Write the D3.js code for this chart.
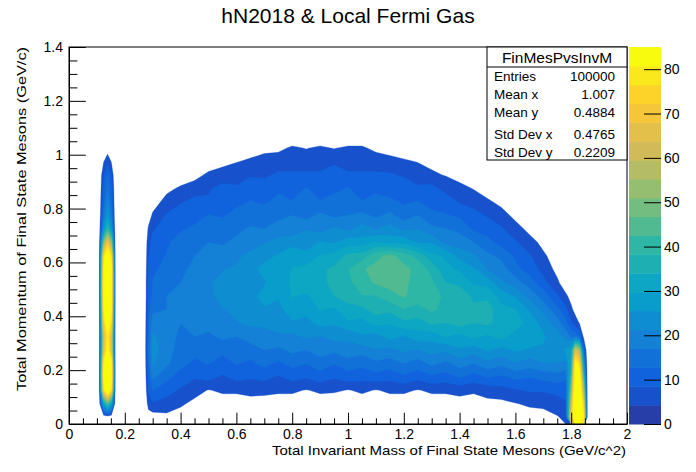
<!DOCTYPE html>
<html><head><meta charset="utf-8">
<script src="https://cdn.jsdelivr.net/npm/d3@7"></script>
<style>
html,body{margin:0;padding:0;background:#fff;}
svg{display:block;font-family:"Liberation Sans",Arial,Helvetica,sans-serif;}
</style></head><body>
<svg id="chart" width="696" height="472"></svg>
<script>
// ---------------- data ----------------
const chartTitle = "hN2018 & Local Fermi Gas";
const xTitle = "Total Invariant Mass of Final State Mesons (GeV/c^2)";
const yTitle = "Total Momentum of Final State Mesons (GeV/c)";
const xTickValues = [0, 0.2, 0.4, 0.6, 0.8, 1, 1.2, 1.4, 1.6, 1.8, 2];
const xTickLabels = ["0", "0.2", "0.4", "0.6", "0.8", "1", "1.2", "1.4", "1.6", "1.8", "2"];
const yTickValues = [0, 0.2, 0.4, 0.6, 0.8, 1, 1.2, 1.4];
const yTickLabels = ["0", "0.2", "0.4", "0.6", "0.8", "1", "1.2", "1.4"];
const zTickValues = [0, 10, 20, 30, 40, 50, 60, 70, 80];
const statsName = "FinMesPvsInvM";
const statsLabels = ["Entries", "Mean x", "Mean y", "Std Dev x", "Std Dev y"];
const statsValues = ["100000", "1.007", "0.4884", "0.4765", "0.2209"];
const zMax = 85;
const nLevels = 20;

// bin centres (GeV/c^2) of the sampled grid columns
const xCenters = [0.108, 0.124, 0.138, 0.152, 0.166,
  0.27, 0.285, 0.30, 0.35, 0.40, 0.45, 0.50, 0.55, 0.60, 0.65,
  0.70, 0.75, 0.80, 0.85, 0.90, 0.95, 1.00, 1.05, 1.10, 1.15,
  1.20, 1.25, 1.30, 1.35, 1.40, 1.45, 1.50, 1.55, 1.60, 1.65,
  1.70, 1.75, 1.78, 1.80, 1.815, 1.83, 1.845, 1.858];
// bin centres (GeV/c) of the grid rows, bottom to top
const yCenters = [0.025, 0.075, 0.125, 0.175, 0.225, 0.275, 0.325, 0.375, 0.425, 0.475, 0.525,
  0.575, 0.625, 0.675, 0.725, 0.775, 0.825, 0.875, 0.925, 0.975, 1.025, 1.075];

// counts, one row per yCenter, listed from top (1.075) to bottom (0.025)
const countsTopDown = [
  [0,0,0,0,0, 0,0,0,0,0,0,0,0,0,0, 0,0,0,0,0,0,0,0,0,0, 0,0,0,0,0,0,0,0,0,0, 0,0,0,0,0,0,0,0],
  [0,0,2,0,0, 0,0,0,0,0,0,0,1,2,2, 3,3,5,4,5,4,5,5,3,2, 1,0,0,0,0,0,0,0,0,0, 0,0,0,0,0,0,0,0],
  [0,4,7,4,0, 0,0,0,0,0,1,2,3,4,5, 6,7,7,7,7,8,7,7,7,6, 5,4,3,2,1,0,0,0,0,0, 0,0,0,0,0,0,0,0],
  [0,8,13,8,0, 0,0,0,0,1,3,5,6,7,8, 8,9,9,9,9,10,9,9,9,9, 8,7,5,4,2,1,0,0,0,0, 0,0,0,0,0,0,0,0],
  [0,10,16,11,0, 0,0,2,3,5,6,8,10,9,11, 10,12,11,13,11,12,13,11,12,10, 11,9,10,7,6,4,2,1,0,0, 0,0,0,0,0,0,0,0],
  [0,12,20,13,0, 0,0,2,6,8,10,9,12,11,13, 12,14,13,15,13,14,16,13,14,14, 12,13,11,11,8,7,5,3,1,0, 0,0,0,0,0,0,0,0],
  [0,16,26,17,0, 0,2,5,9,11,10,13,12,15,13, 16,15,17,15,18,16,17,18,16,18, 15,17,14,13,12,10,8,6,3,1, 0,0,0,0,0,0,0,0],
  [0,25,40,27,0, 0,5,8,11,12,14,13,16,15,18, 17,20,18,21,19,22,20,23,21,23, 20,21,18,17,16,12,11,9,6,3, 1,0,0,0,0,0,0,0],
  [0,50,70,52,0, 0,7,10,12,15,14,17,16,19,18, 21,22,24,23,26,25,28,27,30,28, 29,25,25,20,19,17,14,11,9,6, 3,0,0,0,0,0,0,0],
  [0,75,92,76,0, 0,8,11,13,15,17,18,20,20,23, 24,26,28,27,30,31,35,36,41,44, 40,37,31,29,24,22,18,16,12,9, 5,2,0,0,0,0,0,0],
  [0,82,98,84,0, 0,9,12,14,16,18,19,21,22,24, 27,26,30,31,33,35,38,42,44,46, 44,41,37,31,29,26,21,19,14,11, 7,3,1,0,0,0,0,0],
  [0,85,100,86,0, 0,10,13,15,17,19,21,22,23,25, 25,29,30,33,32,36,37,41,43,44, 44,40,39,34,33,29,28,22,19,15, 10,5,2,0,0,0,0,0],
  [0,84,98,85,0, 0,10,14,17,18,20,20,23,22,24, 27,26,30,29,32,34,35,38,38,41, 43,40,41,37,37,33,33,28,25,20, 15,9,5,3,1,0,0,0],
  [0,80,95,82,0, 0,11,16,17,18,19,20,21,22,23, 25,24,28,27,30,29,33,33,36,35, 38,37,39,37,38,35,36,31,30,25, 20,14,10,5,3,1,0,0],
  [0,72,90,75,0, 0,12,19,18,17,18,19,20,21,22, 23,22,25,24,27,26,29,28,31,30, 33,32,35,34,36,34,35,32,32,28, 24,19,14,9,6,4,1,0],
  [0,62,80,65,0, 0,13,22,19,16,17,16,18,17,19, 18,21,20,22,21,23,22,25,24,27, 25,28,27,30,28,31,29,31,28,29, 26,23,20,16,16,12,3,0],
  [0,65,85,66,0, 0,14,23,19,15,14,15,14,16,15, 17,16,18,17,19,18,20,19,21,20, 22,21,23,22,25,23,26,24,26,25, 25,24,26,30,65,55,12,0],
  [0,80,98,82,0, 0,13,22,18,14,12,13,11,13,12, 14,12,14,13,15,13,15,14,16,15, 17,15,18,16,19,17,20,18,21,19, 21,21,20,32,85,75,25,0],
  [0,84,100,85,0, 0,11,18,14,11,9,10,8,10,9, 10,8,10,9,11,9,11,10,11,10, 12,10,12,11,13,11,13,12,14,13, 14,15,14,40,92,88,40,0],
  [0,75,95,76,0, 0,9,13,10,8,6,4,5,5,6, 5,5,5,4,5,5,4,5,4,5, 5,4,5,5,6,5,6,7,8,9, 9,10,10,50,96,95,55,0],
  [0,30,45,30,0, 0,6,8,7,5,3,2,2,2,2, 3,2,2,2,2,1,2,2,1,2, 2,1,2,2,2,2,3,3,4,5, 5,6,8,60,100,100,70,0],
  [0,0,0,0,0, 0,2,2,3,2,0,0,0,0,0, 0,0,0,0,0,0,0,0,0,0, 0,0,0,0,0,0,0,0,1,2, 3,4,5,70,100,100,80,0]
];

// ---------------- ROOT "Bird" palette ----------------
const birdStops = [0, 0.125, 0.25, 0.375, 0.5, 0.625, 0.75, 0.875, 1];
const birdR = [0.2082, 0.0592, 0.0780, 0.0232, 0.1802, 0.5301, 0.8186, 0.9956, 0.9764];
const birdG = [0.1664, 0.3599, 0.5041, 0.6419, 0.7178, 0.7492, 0.7328, 0.7862, 0.9832];
const birdB = [0.5293, 0.8684, 0.8385, 0.7914, 0.6425, 0.4662, 0.3499, 0.1968, 0.0539];
function bird(f) {
  let k = 0;
  while (k < birdStops.length - 2 && f > birdStops[k + 1]) k++;
  const t = (f - birdStops[k]) / (birdStops[k + 1] - birdStops[k]);
  const c = a => Math.round(255 * (a[k] + t * (a[k + 1] - a[k])));
  return `rgb(${c(birdR)},${c(birdG)},${c(birdB)})`;
}
function levelColor(i) {
  const idx = Math.floor((i + 0.99) * 255 / nLevels);
  return bird(Math.min(idx, 254) / 254);
}

// ---------------- drawing ----------------
const svg = d3.select("#chart");
const frame = {l: 69, r: 627, t: 47, b: 424};
const x = d3.scaleLinear().domain([0, 2]).range([frame.l, frame.r]);
const y = d3.scaleLinear().domain([0, 1.4]).range([frame.b, frame.t]);
const z = d3.scaleLinear().domain([0, zMax]).range([frame.b, frame.t]);
const FONT = '"Liberation Sans", Arial, sans-serif';

svg.append("rect").attr("width", 696).attr("height", 472).attr("fill", "#fff");

svg.append("clipPath").attr("id", "clipFrame").append("rect")
  .attr("x", frame.l).attr("y", frame.t).attr("width", frame.r - frame.l).attr("height", frame.b - frame.t);

const nx = xCenters.length, ny = yCenters.length;
const grid = countsTopDown.slice().reverse().flat();
const gx = d3.scaleLinear().domain(xCenters.map((_, i) => i + 0.5)).range(xCenters);
const gy = d3.scaleLinear().domain(yCenters.map((_, i) => i + 0.5)).range(yCenters);
const step = zMax / nLevels;
const thresholds = d3.range(1, nLevels).map(i => i * step);
const contours = d3.contours().size([nx, ny]).thresholds(thresholds)(grid);
const proj = d3.geoTransform({
  point(px, py) { this.stream.point(x(gx(px)), y(gy(py))); }
});
const path = d3.geoPath(proj);

svg.append("g").attr("clip-path", "url(#clipFrame)")
  .selectAll("path").data(contours).join("path")
  .attr("d", path)
  .attr("fill", d => levelColor(Math.round(d.value / step)))
  .attr("stroke", d => levelColor(Math.round(d.value / step)))
  .attr("stroke-width", 0.3);

// frame
svg.append("rect").attr("x", frame.l).attr("y", frame.t)
  .attr("width", frame.r - frame.l).attr("height", frame.b - frame.t)
  .attr("fill", "none").attr("stroke", "#000").attr("stroke-width", 1);

// x axis (ticks inside)
const xMinor = d3.range(0, 41).map(i => i * 0.05).filter(v => !xTickValues.some(t => Math.abs(t - v) < 1e-9));
const gxAxis = svg.append("g").attr("transform", `translate(0,${frame.b})`)
  .call(d3.axisBottom(x).tickValues(xTickValues).tickFormat((d, i) => xTickLabels[i])
    .tickSizeInner(-11.3).tickSizeOuter(0).tickPadding(5.5));
svg.append("g").attr("transform", `translate(0,${frame.b})`)
  .call(d3.axisBottom(x).tickValues(xMinor).tickFormat("").tickSizeInner(-5.7).tickSizeOuter(0))
  .call(g => g.select(".domain").remove());

// y axis
const yMinor = d3.range(0, 29).map(i => i * 0.05).filter(v => !yTickValues.some(t => Math.abs(t - v) < 1e-9));
const gyAxis = svg.append("g").attr("transform", `translate(${frame.l},0)`)
  .call(d3.axisLeft(y).tickValues(yTickValues).tickFormat((d, i) => yTickLabels[i])
    .tickSizeInner(-16.8).tickSizeOuter(0).tickPadding(6));
svg.append("g").attr("transform", `translate(${frame.l},0)`)
  .call(d3.axisLeft(y).tickValues(yMinor).tickFormat("").tickSizeInner(-8.4).tickSizeOuter(0))
  .call(g => g.select(".domain").remove());

// palette
const pal = {l: 629, r: 661};
svg.append("g").selectAll("rect").data(d3.range(nLevels)).join("rect")
  .attr("x", pal.l).attr("width", pal.r - pal.l)
  .attr("y", i => z((i + 1) * step)).attr("height", i => z(i * step) - z((i + 1) * step) + 0.5)
  .attr("fill", i => levelColor(i));
const gzAxis = svg.append("g").attr("transform", `translate(${pal.r},0)`)
  .call(d3.axisRight(z).tickValues(zTickValues).tickSizeInner(-17).tickSizeOuter(0).tickPadding(3));
gzAxis.select(".domain").remove();

[gxAxis, gyAxis, gzAxis].forEach(g => {
  g.attr("font-family", null).attr("font-size", null);
  g.selectAll("text").attr("font-size", 14).attr("fill", "#000").style("font-family", FONT);
  g.selectAll("line").attr("stroke", "#000");
  g.selectAll(".domain").attr("stroke", "#000");
});

// titles
svg.append("text").attr("x", 348).attr("y", 23).attr("text-anchor", "middle")
  .attr("font-size", 21).text(chartTitle);
svg.append("text").attr("x", 626).attr("y", 455).attr("text-anchor", "end")
  .attr("font-size", 13).attr("textLength", 354).attr("lengthAdjust", "spacingAndGlyphs").text(xTitle);
svg.append("text").attr("transform", "translate(26,47) rotate(-90)").attr("text-anchor", "end")
  .attr("font-size", 13.5).attr("textLength", 344).attr("lengthAdjust", "spacingAndGlyphs").text(yTitle);

// stats box
const sb = {l: 487, r: 627, t: 47, b: 160, h: 67};
svg.append("rect").attr("x", sb.l).attr("y", sb.t).attr("width", sb.r - sb.l).attr("height", sb.b - sb.t)
  .attr("fill", "#fff").attr("stroke", "#000");
svg.append("line").attr("x1", sb.l).attr("x2", sb.r).attr("y1", sb.h).attr("y2", sb.h).attr("stroke", "#000");
svg.append("text").attr("x", (sb.l + sb.r) / 2).attr("y", 63).attr("text-anchor", "middle")
  .attr("font-size", 15.5).text(statsName);
const rowBase = [80.7, 99.3, 116.7, 139, 156.7];
svg.append("g").selectAll("text.lab").data(statsLabels).join("text")
  .attr("x", 494).attr("y", (d, i) => rowBase[i]).attr("font-size", 13.5).text(d => d);
svg.append("g").selectAll("text.val").data(statsValues).join("text")
  .attr("x", 615).attr("y", (d, i) => rowBase[i]).attr("text-anchor", "end").attr("font-size", 13.5).text(d => d);
</script>
</body></html>
